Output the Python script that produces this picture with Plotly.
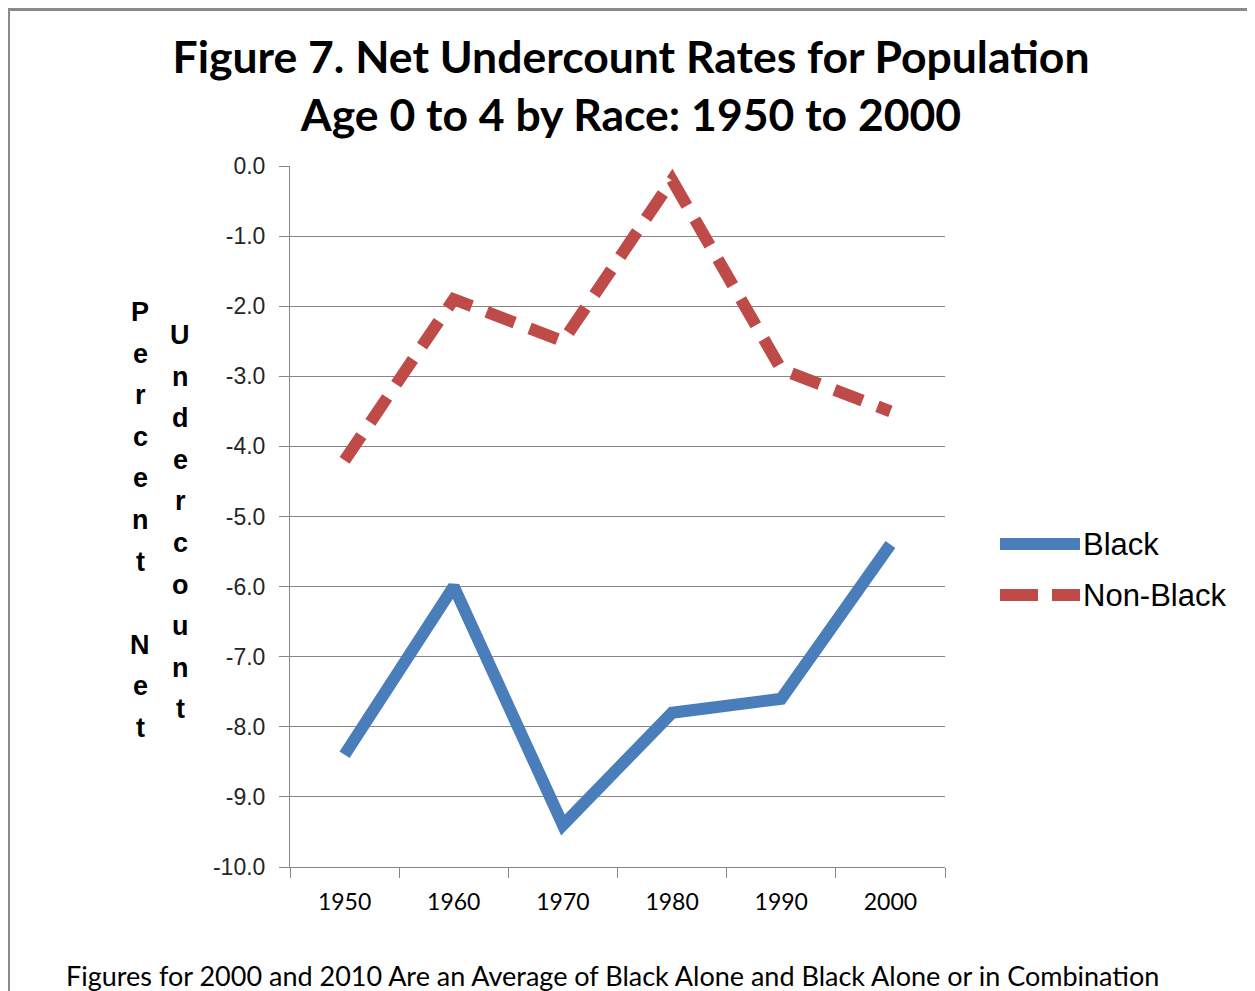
import plotly.graph_objects as go

years = ["1950", "1960", "1970", "1980", "1990", "2000"]
black = [-8.4, -6.0, -9.4, -7.8, -7.6, -5.4]
non_black = [-4.2, -1.9, -2.5, -0.2, -2.9, -3.5]
y_ticks = [0, -1, -2, -3, -4, -5, -6, -7, -8, -9, -10]
y_tick_labels = ["0.0", "-1.0", "-2.0", "-3.0", "-4.0", "-5.0",
                 "-6.0", "-7.0", "-8.0", "-9.0", "-10.0"]

title_text = "Figure 7. Net Undercount Rates for Population<br>Age 0 to 4 by Race: 1950 to 2000"
footnote = "Figures for 2000 and 2010 Are an Average of Black Alone and Black Alone or in Combination"
ytitle_col1 = "Percent Net"
ytitle_col2 = "Undercount"

BLUE = "#4A7EBB"
RED = "#BE4B48"
GRID = "#868686"

OFF = 8  # page body margin offset
W, H = 1255 - OFF, 991 - OFF
L, R, T, B = 290, 945, 166, 867  # plot area in reference page pixels


def px_x(px):
    return (px - L) / (R - L)


def px_y(py):
    return (B - py) / (B - T)


fig = go.Figure()
fig.add_trace(go.Scatter(x=years, y=black, mode="lines", name="Black",
                         line=dict(color=BLUE, width=12), showlegend=False))
fig.add_trace(go.Scatter(x=years, y=non_black, mode="lines", name="Non-Black",
                         line=dict(color=RED, width=12, dash="30px,16px"), showlegend=False))

shapes = []
annotations = []

# chart border (top and left edges visible)
shapes.append(dict(type="line", xref="paper", yref="paper", x0=px_x(7), x1=px_x(1300),
                   y0=px_y(9.5), y1=px_y(9.5), line=dict(color="#8a8a8a", width=3)))
shapes.append(dict(type="line", xref="paper", yref="paper", x0=px_x(9), x1=px_x(9),
                   y0=px_y(8), y1=px_y(1100), line=dict(color="#8a8a8a", width=2)))

# custom legend
shapes.append(dict(type="line", xref="paper", yref="paper", x0=px_x(1000), x1=px_x(1080),
                   y0=px_y(544), y1=px_y(544), line=dict(color=BLUE, width=12)))
shapes.append(dict(type="line", xref="paper", yref="paper", x0=px_x(1000), x1=px_x(1080),
                   y0=px_y(595), y1=px_y(595), line=dict(color=RED, width=12, dash="38px,14px")))
for name, py in [("Black", 544), ("Non-Black", 595)]:
    annotations.append(dict(text=name, xref="paper", yref="paper", x=px_x(1081), y=px_y(py),
                            xanchor="left", yanchor="middle", showarrow=False,
                            font=dict(family="Liberation Sans, Arial", size=31, color="#000")))

# stacked y-axis title letters
for col_text, cx, start_y in [(ytitle_col1, 140, 312), (ytitle_col2, 180, 335)]:
    for i, ch in enumerate(col_text):
        if ch == " ":
            continue
        annotations.append(dict(text=ch, xref="paper", yref="paper", x=px_x(cx),
                                y=px_y(start_y + i * 41.6), xanchor="center", yanchor="middle",
                                showarrow=False,
                                font=dict(family="Liberation Sans, Arial", size=27, color="#000",
                                          weight="bold")))

# footnote
annotations.append(dict(text=footnote, xref="paper", yref="paper", x=px_x(612), y=px_y(976),
                        xanchor="center", yanchor="middle", showarrow=False,
                        font=dict(family="Lato", size=27, color="#000")))

fig.update_layout(
    width=W, height=H,
    margin=dict(l=L - OFF, r=W - (R - OFF), t=T - OFF, b=H - (B - OFF)),
    paper_bgcolor="white", plot_bgcolor="white",
    title=dict(text=title_text, x=(631 - OFF) / W, xanchor="center", y=1 - (73 - OFF) / H,
               yanchor="middle",
               font=dict(family="Lato", size=44.5, color="#000", weight="bold")),
    xaxis=dict(type="category", categoryorder="array", categoryarray=years,
               showgrid=False, showline=True, linecolor=GRID, linewidth=1,
               ticks="outside", tickson="boundaries", ticklen=10, tickcolor=GRID,
               tickfont=dict(family="Lato", size=23, color="#000"), zeroline=False,
               range=[-0.5, 5.5], ticklabelstandoff=14),
    yaxis=dict(range=[-10, 0], tickvals=y_ticks, ticktext=y_tick_labels,
               showgrid=True, gridcolor=GRID, gridwidth=1,
               showline=True, linecolor=GRID, linewidth=1,
               ticks="outside", ticklen=10, tickcolor=GRID, zeroline=False,
               tickfont=dict(family="Liberation Sans, Arial", size=23, color="#262626"),
               ticklabelstandoff=9),
    shapes=shapes, annotations=annotations,
)

fig.write_html("out.html")
